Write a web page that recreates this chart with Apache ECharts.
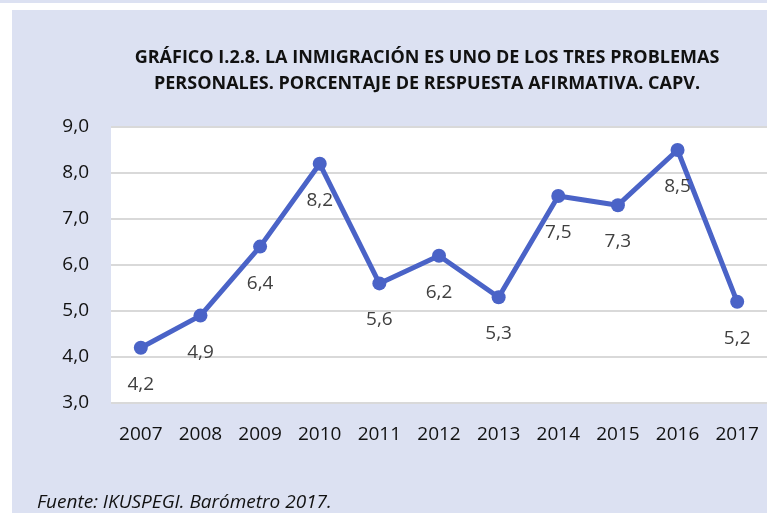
<!DOCTYPE html>
<html>
<head>
<meta charset="utf-8">
<script src="https://cdn.jsdelivr.net/npm/echarts@6/dist/echarts.min.js"></script>
<style>
  html, body { margin: 0; padding: 0; background: #fff; }
  #chart { width: 767px; height: 513px; }
</style>
</head>
<body>
<div id="chart"></div>
<script>
// datos del gráfico
const years = ['2007', '2008', '2009', '2010', '2011', '2012', '2013', '2014', '2015', '2016', '2017']
const values = [4.2, 4.9, 6.4, 8.2, 5.6, 6.2, 5.3, 7.5, 7.3, 8.5, 5.2]
const titleLines = [
  'GRÁFICO I.2.8. LA INMIGRACIÓN ES UNO DE LOS TRES PROBLEMAS',
  'PERSONALES. PORCENTAJE DE RESPUESTA AFIRMATIVA. CAPV.'
]
const sourceText = 'Fuente: IKUSPEGI. Barómetro 2017.'

const fmt = v => v.toFixed(1).replace('.', ',')

const chart = echarts.init(document.getElementById('chart'))

const option = {
  backgroundColor: '#ffffff',
  animation: false,
  graphic: [
    { type: 'rect', z: -10, shape: { x: 0, y: 0, width: 767, height: 3 }, style: { fill: '#dce1f2' } },
    { type: 'rect', z: -10, shape: { x: 12, y: 10, width: 755, height: 503 }, style: { fill: '#dce1f2' } },
    {
      type: 'text', left: 37, top: 493,
      style: { text: sourceText, fill: '#111', font: 'italic 19px "Open Sans", sans-serif' }
    }
  ],
  title: {
    text: titleLines.join('\n'),
    left: 422,
    top: 40,
    textAlign: 'center',
    textStyle: {
      fontFamily: '"Open Sans", sans-serif',
      fontWeight: 'bold',
      fontSize: 18,
      lineHeight: 26,
      color: '#111'
    }
  },
  grid: {
    left: 111,
    top: 127,
    width: 658,
    height: 276,
    backgroundColor: '#ffffff',
    show: true,
    borderWidth: 0
  },
  xAxis: {
    type: 'category',
    data: years,
    axisLine: { show: false },
    axisTick: { show: false },
    axisLabel: {
      margin: 22,
      fontFamily: '"Open Sans", sans-serif',
      fontSize: 19,
      color: '#111'
    }
  },
  yAxis: {
    type: 'value',
    min: 3,
    max: 9,
    interval: 1,
    axisLine: { show: false },
    axisTick: { show: false },
    splitLine: { lineStyle: { color: '#d9d9d9', width: 2 } },
    axisLabel: {
      margin: 22,
      formatter: fmt,
      fontFamily: '"Open Sans", sans-serif',
      fontSize: 19,
      color: '#111'
    }
  },
  series: [
    {
      type: 'line',
      data: values,
      symbol: 'circle',
      symbolSize: 14,
      lineStyle: { color: '#4a63c7', width: 5 },
      itemStyle: { color: '#4a63c7' },
      label: {
        show: true,
        position: 'bottom',
        distance: 20,
        formatter: p => fmt(p.value),
        fontFamily: '"Open Sans", sans-serif',
        fontSize: 19,
        color: '#404040'
      }
    }
  ]
}

chart.setOption(option)
</script>
</body>
</html>
